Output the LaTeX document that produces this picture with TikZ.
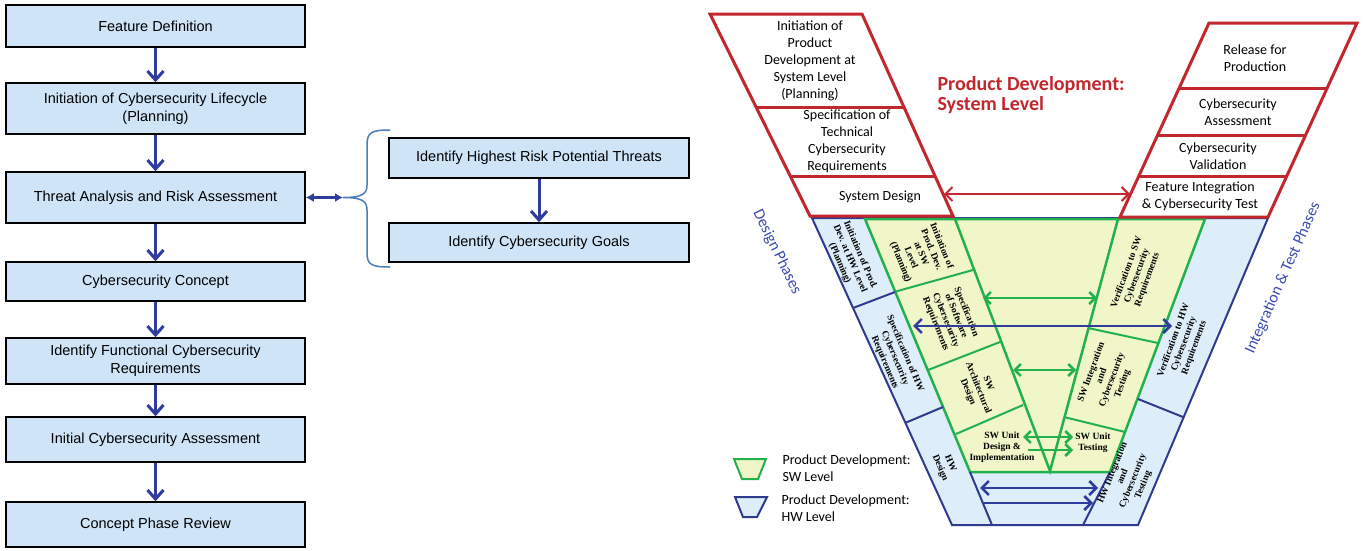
\documentclass[tikz,border=0pt]{standalone}
\usepackage{fontspec}
\setmainfont{Liberation Sans}
\newfontfamily\calfont{Carlito}
\newfontfamily\timfont{Liberation Serif}
\usetikzlibrary{arrows.meta,calc,positioning}
\definecolor{BoxFill}{HTML}{CFE4F7}
\definecolor{FlowBlue}{HTML}{2E3C9E}
\definecolor{BraceBlue}{HTML}{4A7EBB}
\definecolor{SysRed}{HTML}{C1272D}
\definecolor{SwGreen}{HTML}{22B14C}
\definecolor{SwFill}{HTML}{F0F6C8}
\definecolor{HwLine}{HTML}{2E3B8E}
\definecolor{HwFill}{HTML}{DDEEFA}
\definecolor{PhaseBlue}{HTML}{3A4BB0}
\tikzset{
  flowbox/.style={draw=black, line width=1.5pt, fill=BoxFill, minimum width=299pt, align=center, inner sep=2pt, font=\fontsize{14.5}{18}\selectfont},
  flowarrow/.style={-{Straight Barb[length=9pt,width=16pt]}, draw=FlowBlue, line width=3pt},
  sysbox/.style={draw=SysRed, line width=3pt, fill=white},
  systext/.style={font=\calfont\fontsize{14}{17}\selectfont, align=center},
  swtext/.style={font=\timfont\bfseries\fontsize{9.5}{11}\selectfont, align=center, inner sep=1pt},
  legtext/.style={font=\calfont\fontsize{14}{17}\selectfont, align=left},
  phasetext/.style={font=\calfont\fontsize{16}{18}\selectfont, text=PhaseBlue},
  swlink/.style={{Straight Barb[length=6pt,width=12pt]}-{Straight Barb[length=6pt,width=12pt]}, draw=SwGreen, line width=2.5pt},
  hwlink/.style={{Straight Barb[length=7pt,width=14pt]}-{Straight Barb[length=7pt,width=14pt]}, draw=FlowBlue, line width=2.5pt},
}

\begin{document}
\begin{tikzpicture}[x=1pt,y=-1pt]
  \useasboundingbox (0,0) rectangle (1366,550);
  % Concept phase flow
  \node[flowbox, minimum height=42pt] (featdef) at (155.5,26) {Feature Definition};
  \node[flowbox, minimum height=51pt] (initcyb) at (155.5,108.5) {Initiation of Cybersecurity Lifecycle\\(Planning)};
  \node[flowbox, minimum height=51pt] (tara) at (155.5,197.5) {Threat Analysis and Risk Assessment};
  \node[flowbox, minimum height=39pt] (cybconcept) at (155.5,281.5) {Cybersecurity Concept};
  \node[flowbox, minimum height=46pt] (funcreq) at (155.5,361) {Identify Functional Cybersecurity\\Requirements};
  \node[flowbox, minimum height=45pt] (initassess) at (155.5,439.5) {Initial Cybersecurity Assessment};
  \node[flowbox, minimum height=45pt] (phasereview) at (155.5,524.5) {Concept Phase Review};
  \foreach \a/\b in {featdef/initcyb, initcyb/tara, tara/cybconcept, cybconcept/funcreq, funcreq/initassess, initassess/phasereview}
    \draw[flowarrow] (\a) -- (\b);

  % TARA detail
  \node[flowbox, minimum width=300pt, minimum height=40pt] (threats) at (539,158) {Identify Highest Risk Potential Threats};
  \node[flowbox, minimum width=300pt, minimum height=39pt] (goals) at (539,242.5) {Identify Cybersecurity Goals};
  \draw[flowarrow] (threats) -- (goals);
  \coordinate (bracetip) at (343,197.5);
  \draw[BraceBlue, line width=1.5pt] (390,130) .. controls (372,130) and (367,132) .. (367,145) -- (367,185)
    .. controls (367,194) and (362,197.5) .. (bracetip) .. controls (362,197.5) and (367,201) .. (367,210)
    -- (367,253) .. controls (367,265) and (372,267) .. (390,267);
  \draw[{Latex[length=8pt,width=9pt]}-{Latex[length=8pt,width=9pt]}, FlowBlue, line width=2.5pt] (tara.east) -- (bracetip);

  % V model: HW and SW levels
  \draw[HwLine, line width=2pt, fill=HwFill] (812,218) -- (1268,218) -- (1138,525) -- (952,525) -- cycle;
  \draw[SwGreen, line width=2.5pt, fill=SwFill] (865,219) -- (1205,219) -- (1110,472) -- (970,472) -- cycle;
  \draw[SwGreen, line width=2.5pt] (955,219) -- (1050,471) -- (1118,219);
  \draw[SwGreen, line width=2pt] (894,292) -- (973,270) (928,370) -- (1000,342) (956,434) -- (1023,405)
    (1088,328) -- (1158,343) (1064,417) -- (1125,432);
  \draw[HwLine, line width=2pt] (853,308) -- (895,292) (905,423) -- (943,407) (1138,399) -- (1183,417)
    (970,472) -- (992,525) (1110,472) -- (1083,525);

  \node[swtext, rotate=-67] (hwinit) at (850,259) {Initiation of Prod.\\Dev. at HW Level\\(Planning)};
  \node[swtext, rotate=-67] (hwspec) at (895,358) {Specification of HW\\Cybersecurity\\Requirements};
  \node[swtext, rotate=-67] (hwdesign) at (945,466) {HW\\Design};
  \node[swtext, rotate=-68] (swinit) at (921,254) {Initiation of\\Prod. Dev.\\at SW\\Level\\(Planning)};
  \node[swtext, rotate=-68] (swspec) at (951,318) {Specification\\of Software\\Cybersecurity\\Requirements};
  \node[swtext, rotate=-68] (swarch) at (978,388) {SW\\Architectural\\Design};
  \node[swtext] (swunit) at (1002,447) {SW Unit\\Design \&\\Implementation};
  \node[swtext, rotate=70] (swverif) at (1137,276) {Verification to SW\\Cybersecurity\\Requirements};
  \node[swtext, rotate=70] (swinteg) at (1107,378) {SW Integration\\and\\Cybersecurity\\Testing};
  \node[swtext] (swtest) at (1093,443) {SW Unit\\Testing};
  \node[swtext, rotate=70] (hwverif) at (1184,344) {Verification to HW\\Cybersecurity\\Requirements};
  \node[swtext, rotate=68] (hwinteg) at (1128,479) {HW Integration\\and\\Cybersecurity\\Testing};

  % links between design and test
  \coordinate (swreqL) at (983,298);   \coordinate (swreqR) at (1097,298);
  \coordinate (hwreqL) at (913,326);   \coordinate (hwreqR) at (1172,326);
  \coordinate (swarchL) at (1013,370); \coordinate (swarchR) at (1076,370);
  \coordinate (swunitL) at (1023,437); \coordinate (swunitR) at (1073,437);
  \coordinate (swimplL) at (1028,450); \coordinate (swimplR) at (1073,450);
  \coordinate (hwdesL) at (980,488);   \coordinate (hwdesR) at (1098,488);
  \coordinate (hwtstL) at (983,503);   \coordinate (hwtstR) at (1093,503);
  \draw[swlink] (swreqL) -- (swreqR);
  \draw[swlink] (swarchL) -- (swarchR);
  \draw[swlink] (swunitL) -- (swunitR);
  \draw[swlink, -{Straight Barb[length=6pt,width=12pt]}] (swimplL) -- (swimplR);
  \draw[hwlink] (hwreqL) -- (hwreqR);
  \draw[hwlink] (hwdesL) -- (hwdesR);
  \draw[hwlink, -{Straight Barb[length=7pt,width=14pt]}] (hwtstL) -- (hwtstR);

  % System level boxes
  \draw[sysbox] (710,14) -- (862,14) -- (953,216) -- (810,216) -- cycle;
  \draw[SysRed, line width=3pt] (756,107) -- (904,107) (790,176) -- (935,176);
  \draw[sysbox] (1209,23) -- (1357,23) -- (1268,217) -- (1120,217) -- cycle;
  \draw[SysRed, line width=3pt] (1179,88) -- (1327,88) (1158,135) -- (1306,135) (1139,176) -- (1287,176);
  \node[systext] (sysinit) at (810,61) {Initiation of\\Product\\Development at\\System Level\\(Planning)};
  \node[systext] (sysspec) at (847,141) {Specification of\\Technical\\Cybersecurity\\Requirements};
  \node[systext] (sysdes) at (880,197) {System Design};
  \node[systext] (release) at (1255,58) {Release for\\Production};
  \node[systext] (assess) at (1238,112) {Cybersecurity\\Assessment};
  \node[systext] (valid) at (1218,156) {Cybersecurity\\Validation};
  \node[systext] (featint) at (1200,196) {Feature Integration\\\& Cybersecurity Test};
  \coordinate (sysdesR) at (944,194);
  \coordinate (featintL) at (1130,194);
  \draw[{Straight Barb[length=7pt,width=14pt]}-{Straight Barb[length=7pt,width=14pt]}, SysRed, line width=2pt] (sysdesR) -- (featintL);
  \node[font=\calfont\bfseries\fontsize{20}{20}\selectfont, text=SysRed, align=left, anchor=west] (systitle) at (934,95) {Product Development:\\System Level};

  % phase labels and legend
  \node[phasetext, rotate=-64] (designph) at (777,252) {Design Phases};
  \node[phasetext, rotate=66] (integph) at (1283,278) {Integration \& Test Phases};
  \draw[SwGreen, line width=2pt, fill=SwFill] (734,459) -- (766,459) -- (758,479) -- (742,479) -- cycle;
  \draw[HwLine, line width=2pt, fill=HwFill] (735,497) -- (767,497) -- (757,517) -- (743,517) -- cycle;
  \node[legtext, anchor=west] (swlegend) at (779,468) {Product Development:\\SW Level};
  \node[legtext, anchor=west] (hwlegend) at (778,508) {Product Development:\\HW Level};
\end{tikzpicture}
\end{document}
